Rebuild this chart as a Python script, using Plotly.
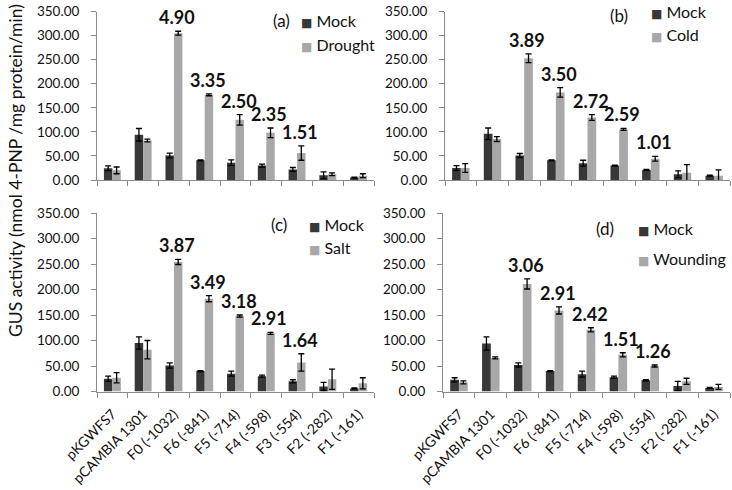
import plotly.graph_objects as go

# ---------------- data ----------------
categories = ["pKGWFS7", "pCAMBIA 1301", "F0 (-1032)", "F6 (-841)", "F5 (-714)",
              "F4 (-598)", "F3 (-554)", "F2 (-282)", "F1 (-161)"]
y_ticks = [0, 50, 100, 150, 200, 250, 300, 350]

# (a) Drought
mock_a = [24.5, 94, 51, 41, 36, 30, 22, 10, 5]
mock_a_err = [5, 13, 5, 1, 6, 3, 4, 7, 1]
drought = [20, 82, 305, 177, 125, 98, 56, 12, 9]
drought_err = [7, 3, 4, 2, 11, 10, 15, 3, 4]
fold_a = ["", "", "4.90", "3.35", "2.50", "2.35", "1.51", "", ""]

# (b) Cold
mock_b = [25, 96, 51, 41, 35, 30, 21, 12, 9]
mock_b_err = [5, 12, 4, 1, 6, 1, 1, 7, 1]
cold = [25, 85, 253, 182, 130, 105, 44, 15, 9]
cold_err = [9, 5, 9, 10, 6, 2, 5, 17, 12]
fold_b = ["", "", "3.89", "3.50", "2.72", "2.59", "1.01", "", ""]

# (c) Salt
mock_c = [25, 95, 51, 40, 35, 30, 20, 10, 6]
mock_c_err = [5, 12, 5, 1, 5, 2, 3, 8, 1]
salt = [27, 82, 254, 182, 148, 114, 57, 24, 16]
salt_err = [10, 18, 5, 6, 2, 2, 17, 20, 11]
fold_c = ["", "", "3.87", "3.49", "3.18", "2.91", "1.64", "", ""]

# (d) Wounding
mock_d = [23, 94, 52, 40, 34, 28, 22, 11, 7]
mock_d_err = [4, 13, 4, 1, 6, 2, 1, 9, 1]
wound = [18, 66, 211, 159, 121, 72, 50, 20, 9]
wound_err = [3, 2, 10, 7, 4, 4, 2, 6, 5]
fold_d = ["", "", "3.06", "2.91", "2.42", "1.51", "1.26", "", ""]

y_title = "GUS activity (nmol 4-PNP /mg protein/min)"

# ---------------- style ----------------
W, H = 732, 490
FONT = "Lato, Carlito, Calibri, 'Open Sans', sans-serif"
MOCK_COLOR = "#383838"
STRESS_COLOR = "#a8a8a8"
AXIS_COLOR = "#8a8a8a"
TEXT_COLOR = "#111111"


def px_x(p):
    return p / W


def px_y(p):
    return (H - p) / H


panels = [
    dict(tag="(a)", stress_name="Drought", mock=mock_a, mock_err=mock_a_err,
         stress=drought, stress_err=drought_err, fold=fold_a,
         xdom=(97, 374), ydom=(180, 11.5), bottom=False,
         tag_pos=(281, 21), leg_x=300, leg_y=(20, 45)),
    dict(tag="(b)", stress_name="Cold", mock=mock_b, mock_err=mock_b_err,
         stress=cold, stress_err=cold_err, fold=fold_b,
         xdom=(445, 730), ydom=(180, 11.5), bottom=False,
         tag_pos=(619, 16), leg_x=650, leg_y=(11, 35)),
    dict(tag="(c)", stress_name="Salt", mock=mock_c, mock_err=mock_c_err,
         stress=salt, stress_err=salt_err, fold=fold_c,
         xdom=(97, 374), ydom=(391.5, 213), bottom=True,
         tag_pos=(279, 224), leg_x=308, leg_y=(224, 247)),
    dict(tag="(d)", stress_name="Wounding", mock=mock_d, mock_err=mock_d_err,
         stress=wound, stress_err=wound_err, fold=fold_d,
         xdom=(443, 730), ydom=(391.5, 213), bottom=True,
         tag_pos=(605, 228), leg_x=637, leg_y=(228, 258)),
]

fig = go.Figure()
annotations = []
layout_axes = {}

for i, p in enumerate(panels, start=1):
    sx = "" if i == 1 else str(i)
    xref, yref = "x" + sx, "y" + sx
    err_style = dict(type="data", visible=True, color="black", thickness=1.3, width=3)

    fig.add_trace(go.Bar(
        x=categories, y=p["mock"], name="Mock", marker_color=MOCK_COLOR,
        marker_line_width=0, xaxis=xref, yaxis=yref, showlegend=False,
        error_y=dict(array=p["mock_err"], **err_style)))
    fig.add_trace(go.Bar(
        x=categories, y=p["stress"], name=p["stress_name"], marker_color=STRESS_COLOR,
        marker_line_width=0, xaxis=xref, yaxis=yref, showlegend=False,
        error_y=dict(array=p["stress_err"], **err_style)))

    layout_axes["xaxis" + sx] = dict(
        domain=[px_x(p["xdom"][0]), px_x(p["xdom"][1])], anchor=yref,
        type="category", categoryorder="array", categoryarray=categories,
        showline=True, linecolor=AXIS_COLOR, linewidth=1,
        ticks="outside", tickson="boundaries", ticklen=5, tickcolor=AXIS_COLOR,
        showgrid=False, zeroline=False, ticklabelstandoff=8,
        showticklabels=p["bottom"], tickangle=-45,
        tickfont=dict(family=FONT, size=14, color=TEXT_COLOR), automargin=False)
    layout_axes["yaxis" + sx] = dict(
        domain=[px_y(p["ydom"][0]), px_y(p["ydom"][1])], anchor=xref,
        range=[0, 350], tickvals=y_ticks, tickformat=".2f",
        showline=True, linecolor=AXIS_COLOR, linewidth=1,
        ticks="outside", ticklen=5, tickcolor=AXIS_COLOR,
        showgrid=False, zeroline=False, ticklabelstandoff=9,
        tickfont=dict(family=FONT, size=13.5, color=TEXT_COLOR), automargin=False)

    # fold-change labels above stress bars
    for cat, val, err, lab in zip(categories, p["stress"], p["stress_err"], p["fold"]):
        if lab:
            annotations.append(dict(
                x=cat, y=val + err, xref=xref, yref=yref, text="<b>%s</b>" % lab,
                showarrow=False, yanchor="bottom", xanchor="center", xshift=3, yshift=1,
                font=dict(family=FONT, size=18, color=TEXT_COLOR)))

    # panel tag
    annotations.append(dict(
        x=px_x(p["tag_pos"][0]), y=px_y(p["tag_pos"][1]), xref="paper", yref="paper",
        text=p["tag"], showarrow=False, xanchor="center", yanchor="middle",
        font=dict(family=FONT, size=17, color=TEXT_COLOR)))

    # legend entries
    for name, col, ly in (("Mock", MOCK_COLOR, p["leg_y"][0]),
                          (p["stress_name"], STRESS_COLOR, p["leg_y"][1])):
        annotations.append(dict(
            x=px_x(p["leg_x"] - 1), y=px_y(ly), xref="paper", yref="paper",
            text="<span style='color:%s;font-family:DejaVu Sans;font-size:12px'>■</span> %s" % (col, name),
            showarrow=False, xanchor="left", yanchor="middle",
            font=dict(family=FONT, size=16, color=TEXT_COLOR)))

# y-axis title
annotations.append(dict(
    x=px_x(16), y=px_y(171), xref="paper", yref="paper", text=y_title,
    textangle=-90, showarrow=False, xanchor="center", yanchor="middle",
    font=dict(family=FONT, size=17.5, color=TEXT_COLOR)))

fig.update_layout(
    width=W, height=H, margin=dict(l=0, r=0, t=0, b=0, autoexpand=False),
    paper_bgcolor="white", plot_bgcolor="white",
    barmode="group", bargap=0.45, bargroupgap=0,
    showlegend=False, annotations=annotations,
    font=dict(family=FONT, color=TEXT_COLOR),
    **layout_axes)

fig.write_html("out.html", config={"displayModeBar": False},
               post_script="document.body.style.margin='0';document.body.style.overflow='hidden';")
